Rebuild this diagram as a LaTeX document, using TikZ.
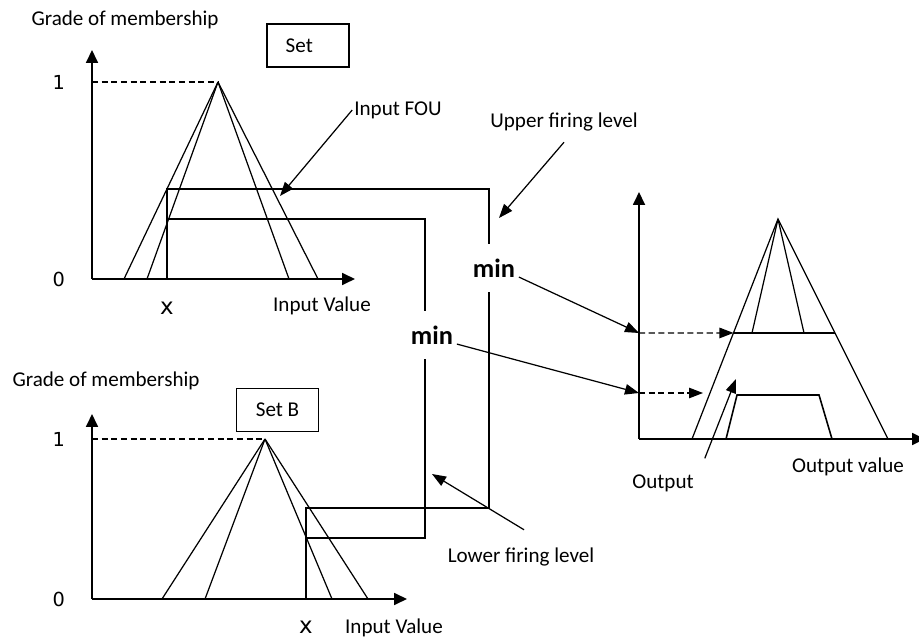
\documentclass[tikz,border=0pt]{standalone}
\usepackage{fontspec}
\setmainfont{Carlito}
\newfontfamily\numfont{DejaVu Sans}
\usetikzlibrary{arrows.meta, positioning, calc}

\begin{document}
\begin{tikzpicture}[
    x=0.02cm, y=-0.02cm,
    font=\fontsize{12}{14}\selectfont,
    axis/.style={
        -{Triangle[length=2.6mm,width=2.4mm]},
        line width=1pt,
        draw=black
    },
    arrow/.style={
        -{Triangle[length=2.8mm,width=2.1mm]},
        line width=0.7pt,
        draw=black
    },
    mf/.style={
        line width=0.7pt,
        draw=black
    },
    level/.style={
        line width=0.9pt,
        draw=black
    },
    guide/.style={
        dash pattern=on 3.5pt off 2pt,
        line width=0.7pt,
        draw=black
    },
    setbox/.style={
        draw=black,
        rectangle,
        line width=0.8pt,
        minimum width=1.64cm,
        minimum height=0.86cm
    },
    label/.style={
        inner sep=1pt
    },
    tick/.style={
        font=\numfont\fontsize{11}{13}\selectfont,
        inner sep=1pt
    },
    xtick/.style={
        font=\numfont\fontsize{13}{15}\selectfont,
        inner sep=1pt
    },
    minlabel/.style={
        font=\fontsize{15}{18}\selectfont\bfseries,
        minimum height=0.96cm,
        inner sep=2pt
    }
]
\useasboundingbox (0,0) rectangle (919,641);

% ============================================================
% Top: input set
% ============================================================

\begin{scope}
    \coordinate (o1)  at (92,279);
    \coordinate (p1)  at (218,82);
    \coordinate (h1)  at (92,82);

    \draw[axis] (o1) -- (92,50);
    \draw[axis] (o1) -- (355,279);
    \draw[guide] (h1) -- (p1);
    \foreach \b in {124,147,289,318} {
        \draw[mf] (p1) -- (\b,279);
    }

    \node[label] (gm1) at (125,20) {Grade of membership};
    \node[setbox] (set1) at (308,45.5) {Set\kern0.35cm\relax};
    \node[tick, left=0.5cm of h1] (one1) {1};
    \node[tick, left=0.5cm of o1] (zero1) {0};
    \node[label] (iv1) at (322,306) {Input Value};
\end{scope}

% ============================================================
% Bottom: set B
% ============================================================

\begin{scope}
    \coordinate (o2)  at (92,599);
    \coordinate (p2)  at (265,439);
    \coordinate (h2)  at (92,439);

    \draw[axis] (o2) -- (92,414);
    \draw[axis] (o2) -- (407,599);
    \draw[guide] (h2) -- (p2);
    \foreach \b in {162,205,332,368} {
        \draw[mf] (p2) -- (\b,599);
    }

    \node[label] (gm2) at (106,381) {Grade of membership};
    \node[setbox] (set2) at (277.5,410) {Set B};
    \node[tick, left=0.5cm of h2] (one2) {1};
    \node[tick, left=0.5cm of o2] (zero2) {0};
    \node[label] (iv2) at (394,628) {Input Value};
\end{scope}

% ============================================================
% Firing levels and min
% ============================================================

\coordinate (xa)  at (167,279);
\coordinate (ua)  at (167,189);
\coordinate (la)  at (167,219);
\coordinate (ur)  at (489,189);
\coordinate (lr)  at (425,219);

\coordinate (xb)  at (306,599);
\coordinate (ub)  at (306,508);
\coordinate (lb)  at (306,538);
\coordinate (urb) at (489,508);
\coordinate (lrb) at (425,538);

\node[xtick, below=0.42cm of xa] (xlab1) {x};
\node[xtick, below=0.4cm of xb] (xlab2) {x};

\node[minlabel] (min1) at (494,268) {min};
\node[minlabel] (min2) at (432,335) {min};

\draw[level] (xa) -- (ua) -- (ur) -- (ur |- min1.north);
\draw[level] (ur |- min1.south) -- (urb) -- (ub) -- (xb);
\draw[level] (la) -- (lr) -- (lr |- min2.north);
\draw[level] (lr |- min2.south) -- (lrb) -- (lb);

% ============================================================
% Right: output set
% ============================================================

\coordinate (o3)  at (639,439);
\coordinate (p3)  at (778,219);
\coordinate (bl3) at (692,439);
\coordinate (br3) at (888,439);
\coordinate (hi)  at (639,333);
\coordinate (lo)  at (639,393);

\draw[axis] (o3) -- (639,192);
\draw[axis] (o3) -- (925,439);

\draw[mf] (bl3) -- (p3) -- (br3);
\draw[mf] (p3) -- (752,333);
\draw[mf] (p3) -- (804,333);
\coordinate (ul3) at ($(p3)!0.518!(bl3)$);
\coordinate (ur3) at ($(p3)!0.518!(br3)$);
\draw[level] (ul3) -- (ur3);
\draw[level] (726,439) -- (737,395) -- (819,395) -- (832,439);

\draw[guide, -{Triangle[length=2.8mm,width=2.1mm]}] (hi) -- (ul3);
\draw[guide, -{Triangle[length=2.8mm,width=2.1mm]}] (lo) -- (703,393);

\draw[arrow] (min1.-20) -- (hi);
\draw[arrow] (min2.-20) -- (lo);

\node[label] (outl) at (663,483) {Output};
\node[label] (ov) at (848,467) {Output value};

% ============================================================
% Annotations
% ============================================================

\node[label] (fou) at (398,110) {Input FOU};
\node[label] (ufl) at (564,122) {Upper firing level};
\node[label] (lfl) at (521,557) {Lower firing level};

\coordinate (fouhead) at (280,196);
\coordinate (uflhead) at (499,218);
\coordinate (lflhead) at (432,474);
\coordinate (outhead) at (736,379);

\draw[arrow] (fou.west) -- (fouhead);
\draw[arrow] ($(ufl.south)+(0,9)$) -- (uflhead);
\draw[arrow] ($(lfl.north)+(3,-16)$) -- (lflhead);
\draw[arrow] ($(outl.north east)+(9,-14)$) -- (outhead);

\end{tikzpicture}
\end{document}
